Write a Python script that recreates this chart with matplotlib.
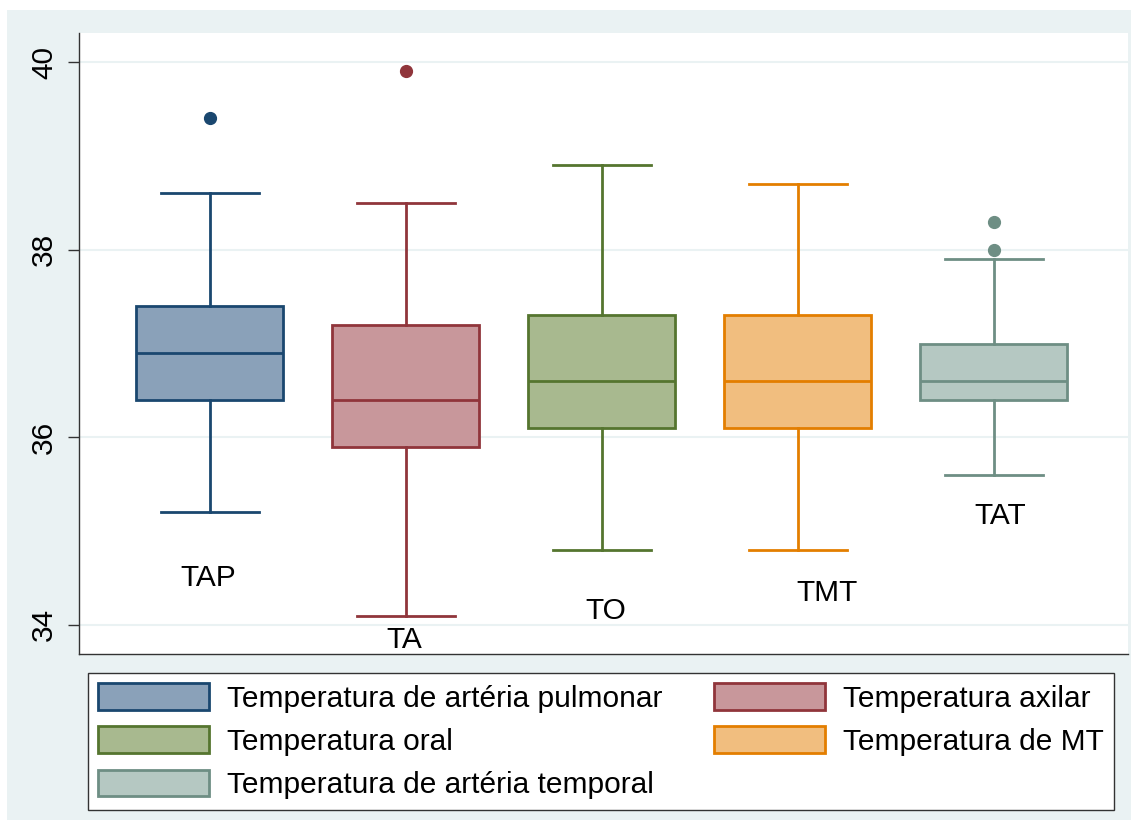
import matplotlib.pyplot as plt
from matplotlib.patches import Patch, Rectangle

plt.rcParams['font.family'] = ['Liberation Sans', 'DejaVu Sans']

# summary statistics per measurement site (degrees C)
names = ['TAP', 'TA', 'TO', 'TMT', 'TAT']
legend_names = ['Temperatura de artéria pulmonar', 'Temperatura axilar',
                'Temperatura oral', 'Temperatura de MT',
                'Temperatura de artéria temporal']
whis_low = [35.2, 34.1, 34.8, 34.8, 35.6]
q1 = [36.4, 35.9, 36.1, 36.1, 36.4]
median = [36.9, 36.4, 36.6, 36.6, 36.6]
q3 = [37.4, 37.2, 37.3, 37.3, 37.0]
whis_high = [38.6, 38.5, 38.9, 38.7, 37.9]
outliers = [[39.4], [39.9], [], [], [38.0, 38.3]]
label_pos = [(0.99, 34.5), (1.99, 33.84), (3.02, 34.15), (4.15, 34.34), (5.03, 35.16)]

edge_colors = ['#1a476f', '#90353b', '#55752f', '#e37e00', '#6e8e84']
face_colors = ['#8aa1b9', '#c8979b', '#a8b98f', '#f1be7f', '#b5c8c2']

fig = plt.figure(figsize=(11.31, 8.23), dpi=100, facecolor='white')
fig.patches.append(Rectangle((7 / 1131, 3 / 823), 1 - 7 / 1131, 1 - 13 / 823,
                             transform=fig.transFigure, facecolor='#eaf2f3',
                             edgecolor='none', zorder=-10))
ax = fig.add_axes([79 / 1131, 169 / 823, 1049 / 1131, 621 / 823])
ax.set_facecolor('white')

for i in range(len(names)):
    stats = [dict(med=median[i], q1=q1[i], q3=q3[i], whislo=whis_low[i],
                  whishi=whis_high[i], fliers=outliers[i])]
    c = edge_colors[i]
    ax.bxp(stats, positions=[i + 1], widths=0.75, patch_artist=True,
           boxprops=dict(facecolor=face_colors[i], edgecolor=c, linewidth=2),
           medianprops=dict(color=c, linewidth=2),
           whiskerprops=dict(color=c, linewidth=2),
           capprops=dict(color=c, linewidth=2),
           capwidths=0.5,
           flierprops=dict(marker='o', markerfacecolor=c, markeredgecolor=c,
                           markersize=8.5))
    ax.text(label_pos[i][0], label_pos[i][1], names[i], fontsize=21.5,
            ha='center', va='center', color='black')

ax.set_xlim(0.332, 5.684)
ax.set_ylim(33.69, 40.31)
ax.set_yticks([34, 36, 38, 40])
ax.set_xticks([])
ax.yaxis.grid(True, color='#eaf2f3', linewidth=1.5)
ax.set_axisbelow(True)
ax.tick_params(axis='y', length=8, width=1, color='#333333', pad=7, labelsize=21.5)
for lab in ax.get_yticklabels():
    lab.set_rotation(90)
    lab.set_va('center')
for side in ['top', 'right']:
    ax.spines[side].set_visible(False)
for side in ['left', 'bottom']:
    ax.spines[side].set_color('#333333')
    ax.spines[side].set_linewidth(1)

handles = [Patch(facecolor=face_colors[i], edgecolor=edge_colors[i], linewidth=2,
                 label=legend_names[i]) for i in range(5)]
order = [0, 2, 4, 1, 3]
leg = fig.legend([handles[i] for i in order], [legend_names[i] for i in order],
                 ncol=2, loc='upper left', bbox_to_anchor=(88 / 1131, 1 - 673 / 823),
                 borderaxespad=0, fontsize=21.5, handlelength=3.7, handleheight=1.0,
                 handletextpad=0.6, columnspacing=1.75, labelspacing=0.45,
                 borderpad=0.35, fancybox=False, framealpha=1)
leg.get_frame().set_edgecolor('#333333')
leg.get_frame().set_linewidth(1)

fig.savefig('out.png', dpi=100, facecolor=fig.get_facecolor())
